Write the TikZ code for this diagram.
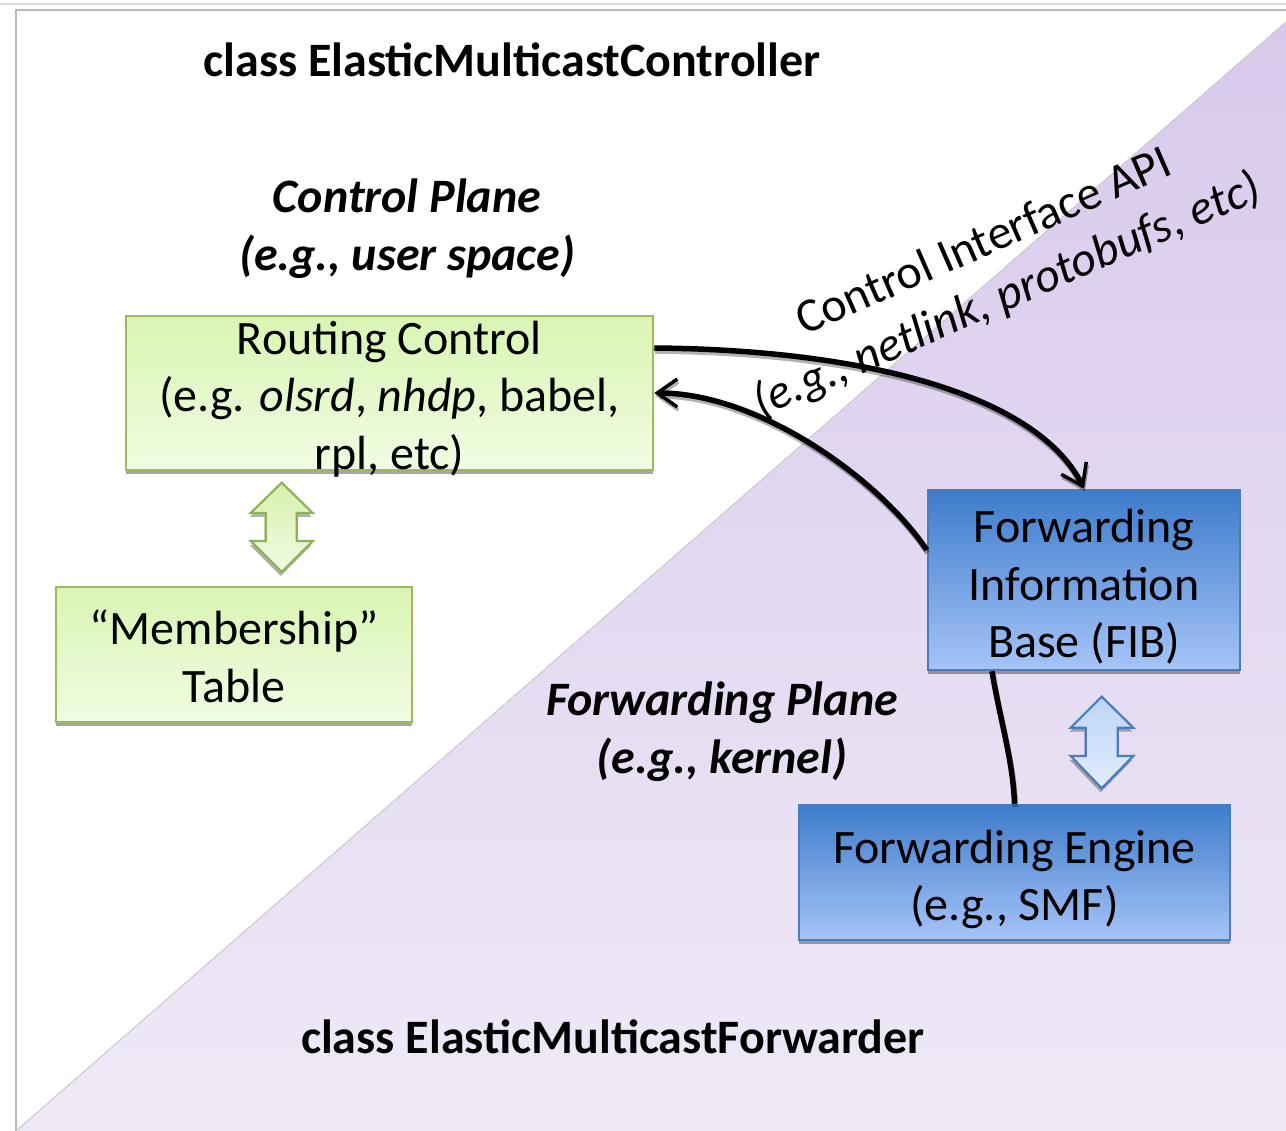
\documentclass[tikz,border=0pt]{standalone}
\usepackage{fontspec}
\setmainfont{Carlito}
\usetikzlibrary{arrows.meta,shadows,calc}

\definecolor{violetTop}{HTML}{D8C9EC}
\definecolor{violetBot}{HTML}{EFE9F7}
\definecolor{greenTop}{HTML}{D9F5B3}
\definecolor{greenBot}{HTML}{F1FCE3}
\definecolor{greenEdge}{HTML}{9BBB59}
\definecolor{blueTop}{HTML}{3E7CCB}
\definecolor{blueBot}{HTML}{A6C4F8}
\definecolor{blueEdge}{HTML}{4A7EBB}
\definecolor{arrowBlueTop}{HTML}{BDD5F6}
\definecolor{arrowBlueBot}{HTML}{E2EDFD}
\definecolor{arrowGreenTop}{HTML}{D6F0AE}
\definecolor{arrowGreenBot}{HTML}{F0FBE3}
\definecolor{arrowGreenEdge}{HTML}{8DB356}

\tikzset{
  boxshadow/.style={drop shadow={shadow xshift=0pt, shadow yshift=-4pt, fill=black, opacity=0.35}},
  greenbox/.style={draw=greenEdge, line width=2.5pt, top color=greenTop, bottom color=greenBot, boxshadow, inner sep=0pt},
  bluebox/.style={draw=blueEdge, line width=2.5pt, top color=blueTop, bottom color=blueBot, boxshadow, inner sep=0pt},
  boxtext/.style={font=\fontsize{48}{57.5}\selectfont, align=center, inner sep=0pt},
  title/.style={font=\fontsize{48}{58}\selectfont\bfseries, inner sep=0pt},
  planelabel/.style={font=\fontsize{48}{58}\selectfont\bfseries\itshape, align=center, inner sep=0pt},
  apilabel/.style={font=\fontsize{48}{58}\selectfont, align=center, inner sep=0pt},
  wire/.style={line width=5.5pt, black},
  wireshadow/.style={line width=5.5pt, black, opacity=0.3, transform canvas={xshift=1pt,yshift=-3pt}},
  barb/.style={-{Straight Barb[length=20pt,width=28pt,line width=3.5pt]}},
  blockshadow/.style={fill=black, opacity=0.3, transform canvas={xshift=-1pt,yshift=-4pt}},
}

\begin{document}
\begin{tikzpicture}[x=1pt,y=-1pt]
  \useasboundingbox (0,0) rectangle (1286,1131);
  \fill[white] (0,0) rectangle (1286,1131);

  % page frame
  \draw[gray!30, line width=1.5pt] (0,4) -- (1286,4);
  \draw[gray!55, line width=1.5pt] (1286,10) -- (16,10) -- (16,1131);

  % forwarding-plane half (lower right triangle)
  \fill[top color=violetTop, bottom color=violetBot] (16,1131) -- (1286,22) -- (1286,1131) -- cycle;
  \draw[gray!40, line width=1pt] (16,1131) -- (1286,22);

  % headings
  \node[title] (ctrlclass) at (512,60) {class ElasticMulticastController};
  \node[title] (fwdclass) at (613,1037) {class ElasticMulticastForwarder};
  \node[planelabel] (ctrlplane) at (407,229) {Control Plane\\(e.g., user space)};
  \node[planelabel] (fwdplane) at (722,732) {Forwarding Plane\\(e.g., kernel)};
  \node[apilabel, rotate=23.6] (api) at (996,270) {Control Interface API\\\textit{(e.g., netlink, protobufs, etc)}};

  % boxes
  \node[greenbox, minimum width=527pt, minimum height=154pt] (rc) at (389.5,393) {};
  \node[greenbox, minimum width=356pt, minimum height=135pt] (mt) at (234,654.5) {};
  \node[bluebox, minimum width=312pt, minimum height=180pt] (fib) at (1084,580) {};
  \node[bluebox, minimum width=431pt, minimum height=135pt] (fe) at (1014.5,872.5) {};

  % connectors (shadow first, then the line)
  \draw[wireshadow, barb] ([yshift=45pt]rc.east) .. controls (880,350) and (1040,400) .. (fib.north);
  \draw[wire, barb] ([yshift=45pt]rc.east) .. controls (880,350) and (1040,400) .. (fib.north);
  \draw[wireshadow, barb] ([yshift=30pt]fib.west) .. controls (880,480) and (760,393) .. (rc.east);
  \draw[wire, barb] ([yshift=30pt]fib.west) .. controls (880,480) and (760,393) .. (rc.east);
  \draw[wireshadow] ([xshift=-92pt]fib.south) .. controls (1000,720) and (1013,760) .. (fe.north);
  \draw[wire] ([xshift=-92pt]fib.south) .. controls (1000,720) and (1013,760) .. (fe.north);

  % box labels
  \node[boxtext] (rctext) at ([yshift=-6pt]rc.center) {Routing Control\\(e.g. \textit{olsrd}, \textit{nhdp}, babel,\\rpl, etc)};
  \node[boxtext] (mttext) at ([yshift=-2pt]mt.center) {“Membership”\\Table};
  \node[boxtext] (fibtext) at ([yshift=-7pt]fib.center) {Forwarding\\Information\\Base (FIB)};
  \node[boxtext] (fetext) at ([yshift=-7pt]fe.center) {Forwarding Engine\\(e.g., SMF)};

  % double-headed block arrows
  \fill[blockshadow] (281.7,482.7) -- (312.7,513) -- (296.7,513) -- (296.7,541) -- (312.7,541) -- (281.7,572) -- (250.7,541) -- (265.7,541) -- (265.7,513) -- (250.7,513) -- cycle;
  \draw[draw=arrowGreenEdge, line width=2.2pt, top color=arrowGreenTop, bottom color=arrowGreenBot, line join=miter]
    (281.7,482.7) -- (312.7,513) -- (296.7,513) -- (296.7,541) -- (312.7,541) -- (281.7,572) -- (250.7,541) -- (265.7,541) -- (265.7,513) -- (250.7,513) -- cycle;

  \fill[blockshadow] (1101.7,696.7) -- (1133.3,727.7) -- (1117.7,727.7) -- (1117.7,756) -- (1133.3,756) -- (1101.7,788.3) -- (1070.7,756) -- (1085.7,756) -- (1085.7,727.7) -- (1070.7,727.7) -- cycle;
  \draw[draw=blueEdge, line width=2.2pt, top color=arrowBlueTop, bottom color=arrowBlueBot, line join=miter]
    (1101.7,696.7) -- (1133.3,727.7) -- (1117.7,727.7) -- (1117.7,756) -- (1133.3,756) -- (1101.7,788.3) -- (1070.7,756) -- (1085.7,756) -- (1085.7,727.7) -- (1070.7,727.7) -- cycle;
\end{tikzpicture}
\end{document}
